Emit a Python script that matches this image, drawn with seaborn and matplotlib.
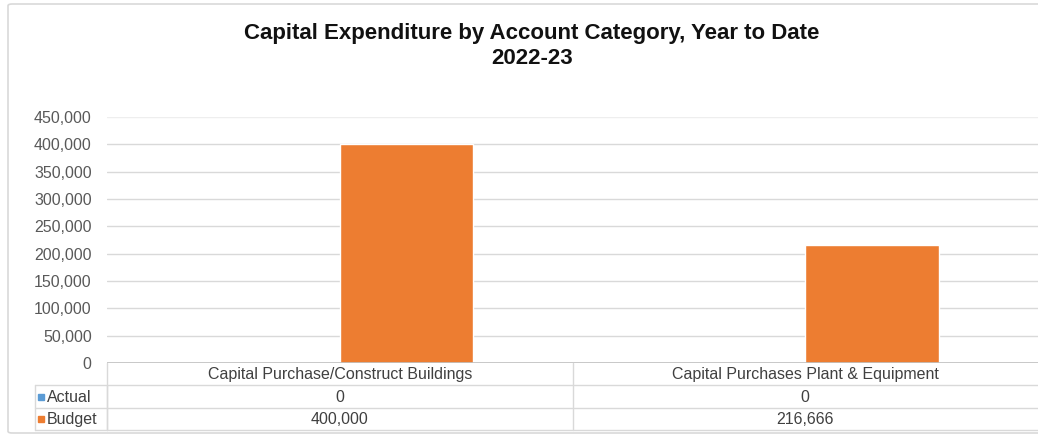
import pandas as pd
import numpy as np
import matplotlib.pyplot as plt
import matplotlib.transforms as mtransforms
from matplotlib.patches import FancyBboxPatch, Rectangle
import seaborn as sns

# data
categories = ["Capital Purchase/Construct Buildings", "Capital Purchases Plant & Equipment"]
actual = [0, 0]
budget = [400000, 216666]
series = ["Actual", "Budget"]
colors = {"Actual": "#5B9BD5", "Budget": "#ED7D31"}

df = pd.DataFrame({
    "category": categories * 2,
    "series": ["Actual"] * 2 + ["Budget"] * 2,
    "value": actual + budget,
})

sns.set_style("white")
plt.rcParams['font.family'] = ['Liberation Sans', 'DejaVu Sans']

fig = plt.figure(figsize=(10.38, 4.36), dpi=100)
W, H = 1038, 436

# outer chart border
fig.patches.append(FancyBboxPatch((8 / W, 3 / H), 1.02 - 8 / W, 1 - 7 / H,
                                  boxstyle="round,pad=0,rounding_size=0.004",
                                  transform=fig.transFigure, fill=False,
                                  edgecolor="#d9d9d9", linewidth=1.2))

ax = fig.add_axes([107 / W, 1 - 363 / H, 1 - 107 / W, (363 - 117) / H])
sns.barplot(data=df, x="category", y="value", hue="series", palette=colors,
            width=0.573, gap=0, ax=ax, legend=False, saturation=1)

ax.set_ylim(0, 450000)
ax.set_xlim(-0.5, 1.5)
ax.set_yticks(np.arange(0, 450001, 50000))
ax.set_yticklabels([f"{v:,}" for v in range(0, 450001, 50000)], fontsize=11.5, color="#595959")
ax.tick_params(axis="y", length=0, pad=11)
for v in range(50000, 400001, 50000):
    ax.axhline(v, color="#d9d9d9", linewidth=1, zorder=0)
ax.axhline(450000, color="#eeeeee", linewidth=1, zorder=0)
ax.axhline(0, color="#bfbfbf", linewidth=1.2, zorder=3)
for s in ax.spines.values():
    s.set_visible(False)
ax.set_xticks([])
ax.set_xlabel("")
ax.set_ylabel("")

fig.text(532 / W, 1 - 33 / H, "Capital Expenditure by Account Category, Year to Date",
         ha="center", va="center", fontsize=16, fontweight="bold", color="#111111")
fig.text(532 / W, 1 - 58 / H, "2022-23", ha="center", va="center",
         fontsize=16, fontweight="bold", color="#111111")

# data table below the plot
trans = mtransforms.blended_transform_factory(ax.transData, fig.transFigure)
line_kw = dict(color="#d9d9d9", linewidth=1)
rows_y = [374, 397, 419]
hlines = [385, 408, 430]
for yy in hlines:
    fig.add_artist(plt.Line2D([35 / W, 1.0], [1 - yy / H] * 2, transform=fig.transFigure, **line_kw))
for xx in [35, 107]:
    fig.add_artist(plt.Line2D([xx / W] * 2, [1 - 385 / H, 1 - 430 / H], transform=fig.transFigure, **line_kw))
fig.add_artist(plt.Line2D([107 / W] * 2, [1 - 363 / H, 1 - 430 / H], transform=fig.transFigure, **line_kw))
fig.add_artist(plt.Line2D([0.5, 0.5], [1 - 363 / H, 1 - 430 / H], transform=trans, **line_kw))

for i, cat in enumerate(categories):
    fig.text(i, 1 - rows_y[0] / H, cat, transform=trans, ha="center", va="center",
             fontsize=11.5, color="#404040")
    fig.text(i, 1 - rows_y[1] / H, f"{actual[i]:,}", transform=trans, ha="center",
             va="center", fontsize=11.5, color="#404040")
    fig.text(i, 1 - rows_y[2] / H, f"{budget[i]:,}", transform=trans, ha="center",
             va="center", fontsize=11.5, color="#404040")

for name, yy in zip(series, rows_y[1:]):
    fig.patches.append(Rectangle((38 / W, 1 - (yy + 3) / H), 6 / W, 6 / H,
                                 transform=fig.transFigure, color=colors[name]))
    fig.text(47 / W, 1 - yy / H, name, ha="left", va="center", fontsize=11.5, color="#404040")

fig.savefig("out.png", dpi=100)
